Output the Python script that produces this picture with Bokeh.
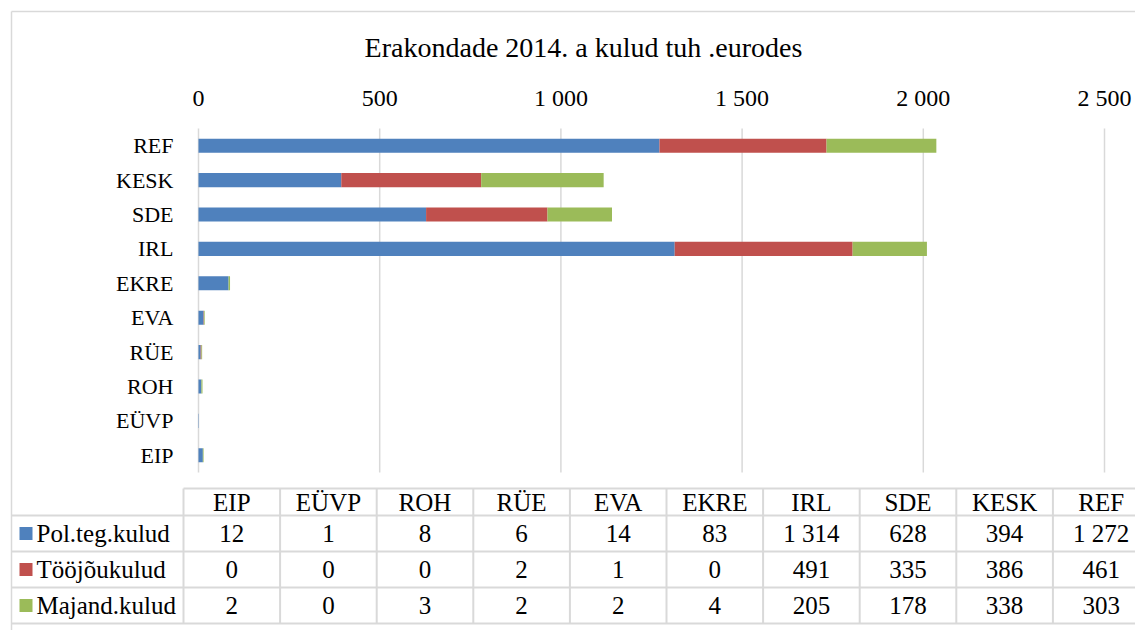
from bokeh.plotting import figure
from bokeh.models import (Range1d, FixedTicker, LinearAxis, ColumnDataSource)
from bokeh.core.properties import value
from bokeh.embed import file_html
from bokeh.resources import INLINE

# ---- data ----
title_text = "Erakondade 2014. a kulud tuh .eurodes"
parties = ["EIP", "EÜVP", "ROH", "RÜE", "EVA", "EKRE", "IRL", "SDE", "KESK", "REF"]
series_names = ["Pol.teg.kulud", "Tööjõukulud", "Majand.kulud"]
pol_teg = [12, 1, 8, 6, 14, 83, 1314, 628, 394, 1272]
toojou = [0, 0, 0, 2, 1, 0, 491, 335, 386, 461]
majand = [2, 0, 3, 2, 2, 4, 205, 178, 338, 303]
tick_values = [0, 500, 1000, 1500, 2000, 2500]
tick_labels = ["0", "500", "1 000", "1 500", "2 000", "2 500"]

colors = ["#4F81BD", "#C0504D", "#9BBB59"]
FONT = "Liberation Serif"
GRID = "#D9D9D9"
W, H = 1135, 630
FL, FR, FT, FB = 198, 1104, 128, 472   # plot area in page pixels
XMAX = 2500


def fmt(v):
    return f"{v:,}".replace(",", " ")


n = len(parties)
pos = list(range(n))  # category slots, EIP at the bottom

# the frame covers the whole canvas; ranges are set so that the value axis
# 0..2500 lands on the plot area FL..FR and the categories on FT..FB
xpx = (FR - FL) / XMAX
ypx = (FB - FT) / n
p = figure(width=W, height=H, title=None,
           x_range=Range1d(-FL / xpx, XMAX + (W - FR) / xpx),
           y_range=Range1d(-0.5 - (H - FB) / ypx, n - 0.5 + FT / ypx),
           x_axis_location=None, y_axis_location=None,
           output_backend="svg", toolbar_location=None, min_border=0)
p.extra_x_ranges = {"px": Range1d(0, W)}
p.extra_y_ranges = {"py": Range1d(H, 0)}
p.background_fill_color = "white"
p.border_fill_color = "white"
p.outline_line_color = None
for g in p.grid:
    g.visible = False

# vertical gridlines over the plot area
p.segment(x0=tick_values, x1=tick_values, y0=[-0.5] * len(tick_values),
          y1=[n - 0.5] * len(tick_values), line_color=GRID, line_width=1.5)

src = ColumnDataSource(dict(pos=pos, a=pol_teg, b=toojou, c=majand))
p.hbar_stack(["a", "b", "c"], y="pos", height=0.41, color=colors,
             line_color=None, source=src)

xax = LinearAxis(fixed_location=n - 0.5, ticker=FixedTicker(ticks=tick_values),
                 major_label_overrides=dict(zip(tick_values, tick_labels)))
yax = LinearAxis(fixed_location=0, ticker=FixedTicker(ticks=pos),
                 major_label_overrides=dict(zip(pos, parties)))
for ax in (xax, yax):
    ax.axis_line_color = None
    ax.major_tick_line_color = None
    ax.minor_tick_line_color = None
    ax.major_tick_out = 0
    ax.major_tick_in = 0
    ax.major_label_text_font = FONT
    ax.major_label_text_color = "black"
xax.major_label_text_font_size = "24px"
xax.major_label_standoff = 18
yax.major_label_text_font_size = "22px"
yax.major_label_standoff = 25
p.add_layout(xax, "above")
p.add_layout(yax, "left")

PX = dict(x_range_name="px", y_range_name="py")

# chart border (left and top edges visible)
p.segment(x0=[11, 11], y0=[11, 11], x1=[11, W], y1=[H, 11],
          line_color=GRID, line_width=1.5, **PX)

# title
p.text(x=[583], y=[47], text=[title_text], text_font=value(FONT),
       text_font_size="28px", text_align="center", text_baseline="middle",
       text_color="black", **PX)

# ---- data table under the chart ----
col0, colw = 183.0, 96.6
rows = [488, 515, 551, 587, 623]
right = col0 + n * colw
p.segment(x0=[col0] + [11] * 4, y0=rows, x1=[right] * 5, y1=rows,
          line_color=GRID, line_width=2, **PX)
vx = [col0 + i * colw for i in range(n + 1)]
p.segment(x0=vx, y0=[rows[0]] * len(vx), x1=vx, y1=[rows[-1]] * len(vx),
          line_color=GRID, line_width=2, **PX)

centers = [col0 + colw / 2 + i * colw for i in range(n)]
cell_x, cell_y, cell_t = [], [], []
hy = (rows[0] + rows[1]) / 2
for c, name in zip(centers, parties):
    cell_x.append(c); cell_y.append(hy); cell_t.append(name)
row_y = []
for r, vals in enumerate([pol_teg, toojou, majand]):
    cy = (rows[r + 1] + rows[r + 2]) / 2
    row_y.append(cy)
    for c, v in zip(centers, vals):
        cell_x.append(c); cell_y.append(cy); cell_t.append(fmt(v))

p.text(x=cell_x, y=cell_y, text=cell_t, text_font=value(FONT),
       text_font_size="25px", text_align="center", text_baseline="middle",
       text_color="black", **PX)
p.rect(x=[25.5] * 3, y=row_y, width=13, height=13, fill_color=colors,
       line_color=None, **PX)
p.text(x=[36] * 3, y=row_y, text=series_names, text_font=value(FONT),
       text_font_size="25px", text_align="left", text_baseline="middle",
       text_color="black", **PX)

open("out.html", "w").write(file_html(p, INLINE))
